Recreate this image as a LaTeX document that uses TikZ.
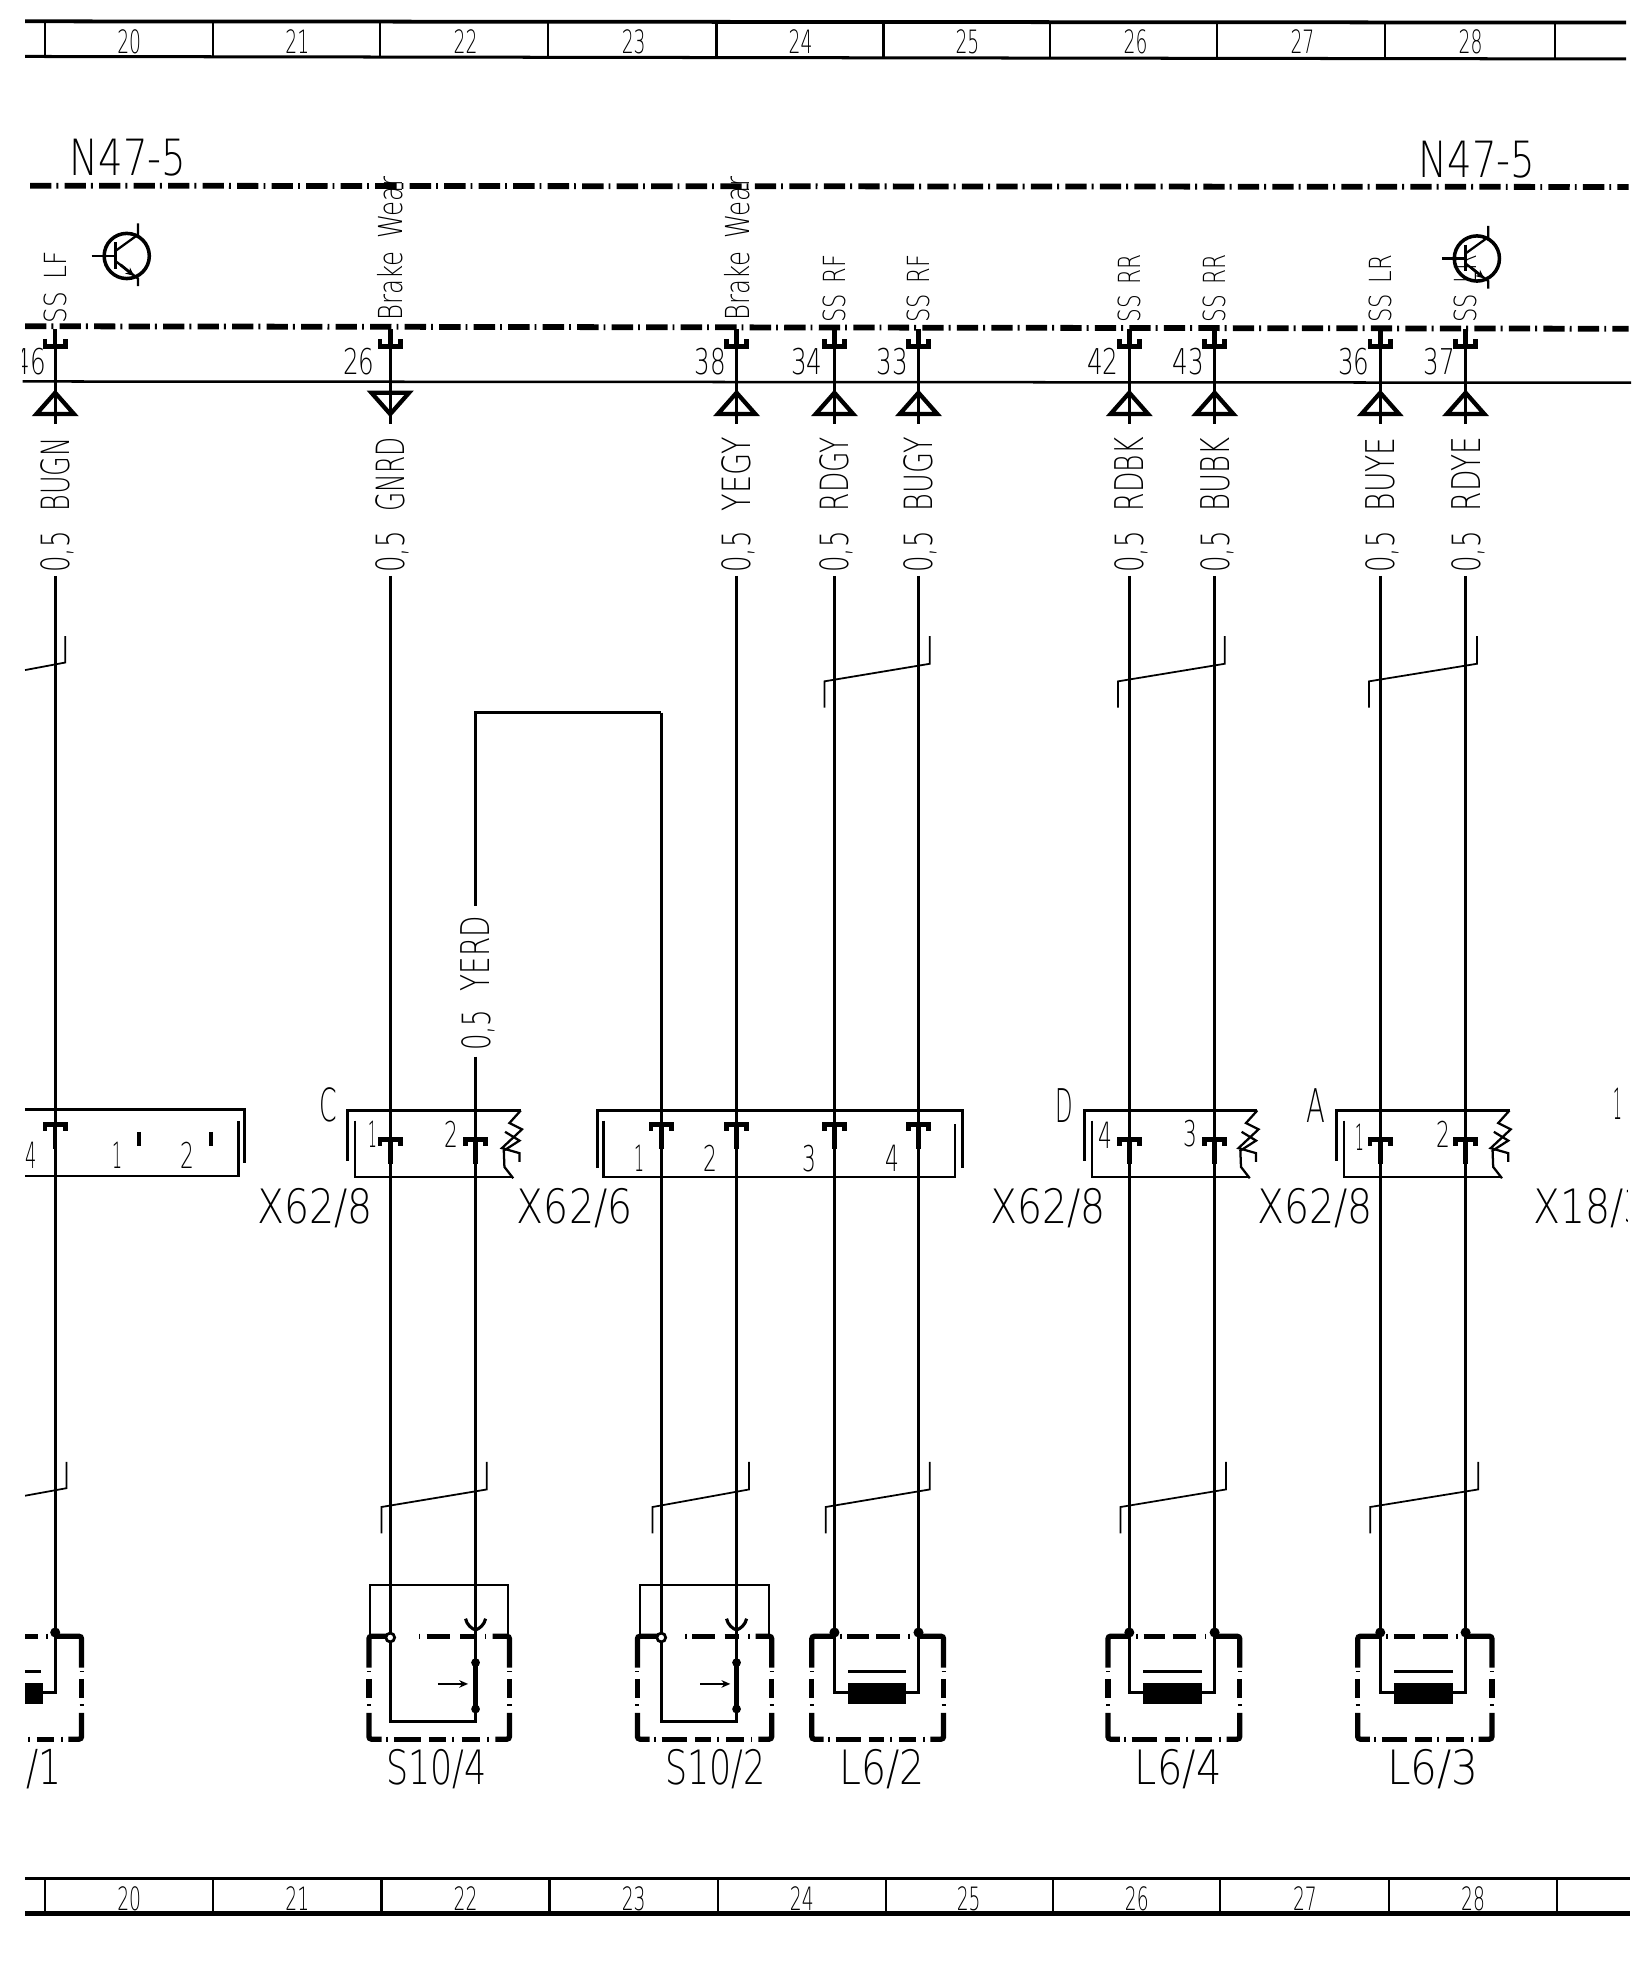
\documentclass[tikz,border=0pt]{standalone}
\usepackage{fontspec}
\usepackage{graphicx}
\usetikzlibrary{arrows.meta}
\newfontfamily\thinf{DejaVu Sans ExtraLight}
\newlength\dpx \setlength\dpx{0.6274pt}
\newcounter{tc}
\newcommand\hlab[5]{\stepcounter{tc}\node[txt] (t\arabic{tc}) at (#1,#2) {\raisebox{0pt}[#4\dpx][0pt]{\resizebox{#3\dpx}{#4\dpx}{\thinf #5}}};}
\newcommand\vlab[5]{\stepcounter{tc}\node[txt,rotate=90] (t\arabic{tc}) at (#1,#2) {\raisebox{0pt}[#4\dpx][0pt]{\resizebox{#3\dpx}{#4\dpx}{\thinf #5}}};}
% pin under the control-unit line
\newcommand\toppin[1]{\draw[pinl] (#1-8,270)--(#1-8,276)--(#1+8,276)--(#1+8,270);\draw[pinl] (#1,262)--(#1,276);}
% pin inside a connector housing, #2 = top of bracket
\newcommand\conpin[2]{\draw[pinl] (#1-8,#2+5)--(#1-8,#2)--(#1+8,#2)--(#1+8,#2+5);\draw[pinl] (#1,#2)--(#1,#2+20);}
\newcommand\mytri[1]{\draw[tril] (#1,313)--(#1+15,330)--(#1-15,330)--cycle;}
\newcommand\shield[4]{\draw[thinl] (#1,#3+57)--(#1,#3+36)--(#2,#3+22)--(#2,#3);}
\newcommand\zig[2]{\begin{scope}[shift={(#1,#2)}]
\draw[med] (0,0)--(-9,10)--(1,15)--(-15,30)--(-1,34)--(-1,41);
\draw[med] (-12.5,17)--(-1,24)--(-13.5,32)--(-13,45)--(-6,54);\end{scope}}
\newcommand\housing[2]{% #1 left x, #2 right x : zig-zag right end
\draw[thk] (#2,885)--(#1,885)--(#1,925);
\draw[med] (#1+6,893)--(#1+6,938)--(#2-7,938);
\zig{#2}{885}}
\newcommand\boxcorners{%
\draw[boxl,rounded corners=2\dpx] (0,25)--(0,0)--(16,0);
\draw[boxl,rounded corners=2\dpx] (0,61)--(0,82)--(9,82);
\draw[boxl,rounded corners=2\dpx] (90,82)--(100,82)--(100,61);
\foreach \px in {0,100}{\draw[boxl] (\px,34)--(\px,49);
 \draw[thinl] ({\px-1.5},28)--({\px+1.5},28);\draw[thinl] ({\px-1.5},55)--({\px+1.5},55);}
\draw[boxl] (18,82)--(37,82);\draw[boxl] (43,82)--(55,82);\draw[boxl] (66,82)--(79,82);
\foreach \px in {13,60,85}{\draw[thinl] (\px,80)--(\px,84);}}
\newcommand\swbox[2]{\begin{scope}[shift={(#1,1304)},xscale={(#2-#1)/100}]\boxcorners
\draw[boxl,rounded corners=2\dpx] (88,0)--(100,0)--(100,25);
\draw[boxl] (41,0)--(58,0);\draw[boxl] (65,0)--(76,0);
\foreach \px in {36,83}{\draw[thinl] (\px,-2)--(\px,2);}\end{scope}}
\newcommand\lfbox[2]{\begin{scope}[shift={(#1,1304)},xscale={(#2-#1)/100}]\boxcorners
\draw[boxl,rounded corners=2\dpx] (80,0)--(100,0)--(100,25);
\draw[boxl] (27,0)--(43,0);\draw[boxl] (49,0)--(67,0);
\foreach \px in {22,74}{\draw[thinl] (\px,-2)--(\px,2);}\end{scope}}
\newcommand\coil[3]{% wire1 wire2 plate
\draw[line width=2.5\dpx] (#1,1301)--(#1,1349)--(#2,1349)--(#2,1301);
\fill (#1+11,1341) rectangle (#2-10,1358);
\draw[line width=2.5\dpx] (#1+11,1332)--(#2-10,1332);
\fill (#1,1301) circle (4\dpx);\fill (#2,1301) circle (4\dpx);}
\newcommand\switchsym[5]{% left wire, right wire, frame left, frame right, arrow start
\draw[thinl] (#3,1303)--(#3,1263)--(#4,1263)--(#4,1303);
\draw[line width=2.5\dpx] (#2-8,1290) .. controls (#2-7,1295) and (#2-3,1298) .. (#2,1299) .. controls (#2+3,1298) and (#2+7,1295) .. (#2+8,1290);
\draw[wirel,line width=2.6\dpx] (#2,1280)--(#2,1298);
\draw[wirel] (#2,1298)--(#2,1325);
\draw[line width=4.5\dpx] (#2,1325)--(#2,1362);
\fill (#2,1325) circle (3.5\dpx);\fill (#2,1362) circle (3.5\dpx);
\draw[wirel,line width=2.6\dpx] (#2,1362)--(#2,1372)--(#1,1372)--(#1,1305);
\draw[wirel,-{Stealth[length=4.4pt,width=3.8pt]}] (#5,1342)--(#5+24,1342);
\draw[line width=2.2\dpx,fill=white] (#1,1305) circle (3.5\dpx);}
\newcommand\transistor[2]{\begin{scope}[shift={(#1,#2)}]
\draw[line width=2.8\dpx] (0,0) circle (18\dpx);
\draw[med] (-28,0)--(-9,0);
\draw[line width=2\dpx] (-9,-11)--(-9,10);
\draw[med] (-9,-4)--(9,-17)--(9,-26);
\draw[med] (-9,4)--(9,18)--(9,24);
\draw[wirel,-{Stealth[length=4.4pt,width=3.8pt]}] (-5,7)--(6,16);
\end{scope}}
\tikzset{
 txt/.style={inner sep=0pt,outer sep=0pt},
 wirel/.style={line width=2.2\dpx},
 thinl/.style={line width=1.4\dpx},
 med/.style={line width=1.8\dpx},
 thk/.style={line width=2.6\dpx},
 pinl/.style={line width=3.6\dpx},
 tril/.style={line width=3.4\dpx,line join=miter},
 boxl/.style={line width=4.2\dpx},
 dashl/.style={line width=4.6\dpx,dash pattern=on 17\dpx off 4\dpx on 1.5\dpx off 5\dpx},
}
\begin{document}
\begin{tikzpicture}[x=\dpx,y=-\dpx]
\useasboundingbox (0,0) rectangle (1313.3,1568.4);
% top strip
\coordinate (stl) at (20,17);\coordinate (str) at (1296,18);
\coordinate (sbl) at (20,45);\coordinate (sbr) at (1296,47);
\draw[line width=3\dpx] (stl)--(str);\draw[line width=2.4\dpx] (sbl)--(sbr);
\foreach \x in {36,170,303,437,571,704,837,970,1104,1239}{\draw[line width=1.8\dpx] (\x,18)--(\x,46);}
\foreach \t/\x in {20/103,21/237,22/371,23/505,24/638,25/771,26/905,27/1038,28/1172}{\hlab{\x}{33}{19}{19}{\t}}
% bottom strip
\coordinate (btl) at (20,1497);\coordinate (btr) at (1299,1497);
\coordinate (bbl) at (20,1525);\coordinate (bbr) at (1299,1525);
\draw[line width=2.6\dpx] (btl)--(btr);\draw[line width=3.6\dpx] (bbl)--(bbr);
\foreach \x in {36,170,304,438,572,706,839,972,1107,1241}{\draw[line width=1.8\dpx] (\x,1497)--(\x,1525);}
\foreach \t/\x in {20/103,21/237,22/371,23/505,24/639,25/772,26/906,27/1040,28/1174}{\hlab{\x}{1513}{19}{19}{\t}}
% N47-5 frame
\hlab{102}{125}{93}{29}{N47-5}
\hlab{1177}{127}{93}{29}{N47-5}
\coordinate (d1l) at (24,148);\coordinate (d1r) at (1298,149);
\coordinate (d2l) at (20,260);\coordinate (d2r) at (1298,262);
\coordinate (ll) at (18,304);\coordinate (lr) at (1300,305);
\draw[dashl] (d1l)--(d1r);\draw[dashl] (d2l)--(d2r);
\draw[line width=2\dpx] (ll)--(lr);
\transistor{101}{204}
% main wires
\foreach \n/\x/\ya/\yb in {a/44/459/1301,b/311/459/1305,c/379/842/1290,d/527/568/1305,e/587/459/1290,f/665/459/1301,g/732/459/1301,h/900/459/1301,i/968/459/1301,j/1100/459/1301,k/1168/459/1301}{
 \coordinate (w\n t) at (\x,\ya);\coordinate (w\n b) at (\x,\yb);
 \draw[wirel] (w\n t)--(w\n b);}
\foreach \n/\x in {a/44,b/311,e/587,f/665,g/732,h/900,i/968,j/1100,k/1168}{\toppin{\x}\draw[wirel] (\x,276)--(\x,338);}
\foreach \x in {44,587,665,732,900,968,1100,1168}{\mytri{\x}}
\draw[tril] (311,330)--(326,313)--(296,313)--cycle;
\foreach \x/\t in {44/BUGN,311/GNRD,587/YEGY,665/RDGY,732/BUGY,900/RDBK,968/BUBK,1100/BUYE,1168/RDYE}{
 \vlab{\x}{378}{59}{23}{\t}\vlab{\x}{440}{33}{23}{0,5}}
\foreach \x in {311,587}{\vlab{\x}{198}{115}{20}{Brake\hspace{.2em} Wear}}
\vlab{44}{229}{57}{18}{SS\hspace{.15em} LF}
\foreach \x/\t in {665/SS\hspace{.15em} RF,732/SS\hspace{.15em} RF,900/SS\hspace{.15em} RR,968/SS\hspace{.15em} RR,1100/SS\hspace{.15em} LR,1168/SS\hspace{.15em} LR}{\vlab{\x}{230}{54}{18}{\t}}
\transistor{1177}{206}
\begin{scope}\clip (18,270) rectangle (60,310);\hlab{24}{288}{25}{21}{46}\end{scope}
\foreach \x/\t in {286/26,566/38,643/34,711/33,879/42,947/43,1079/36,1147/37}{\hlab{\x}{288}{25}{21}{\t}}
% jumper
\coordinate (j1) at (379,722);\coordinate (j2) at (379,568);\coordinate (j3) at (527,568);
\draw[wirel] (j1)--(j2)--(j3);
\vlab{379}{760}{60}{23}{YERD}
\vlab{379}{821}{33}{23}{0,5}
% shields upper
\draw[thinl] (20,534)--(52,528)--(52,507);
\shield{657}{741}{507}{}
\shield{891}{976}{507}{}
\shield{1091}{1177}{507}{}
% shields lower
\draw[thinl] (20,1192)--(53,1186)--(53,1165);
\shield{304}{388}{1165}{}
\shield{520}{597}{1165}{}
\shield{658}{741}{1165}{}
\shield{893}{977}{1165}{}
\shield{1092}{1178}{1165}{}
% connector 1 (left)
\draw[thk] (20,884)--(195,884)--(195,927);
\draw[med] (20,937)--(190,937)--(190,893);
\conpin{44}{896}
\foreach \x in {111,168}{\draw[line width=3.2\dpx] (\x,902)--(\x,913);}
\hlab{25}{921}{9}{21}{4}\hlab{94}{921}{8}{21}{1}\hlab{149}{921}{11}{21}{2}
% connector C
\housing{277}{415}
\conpin{311}{908}\conpin{379}{908}
\hlab{262}{880}{14}{27}{C}
\hlab{297}{904}{7}{21}{1}\hlab{360}{904}{11}{21}{2}
% connector X62/6
\draw[thk] (476,931)--(476,885)--(767,885)--(767,931);
\draw[med] (481,893)--(481,938)--(761,938)--(761,896);
\foreach \x in {527,587,665,732}{\conpin{\x}{896}}
\hlab{510}{923}{8}{21}{1}\hlab{566}{923}{11}{21}{2}\hlab{645}{923}{11}{21}{3}\hlab{711}{923}{11}{21}{4}
% connector D
\housing{864}{1002}
\conpin{900}{908}\conpin{968}{908}
\hlab{848}{881}{14}{27}{D}
\hlab{881}{905}{11}{21}{4}\hlab{949}{903}{11}{21}{3}
% connector A
\housing{1065}{1203}
\conpin{1100}{908}\conpin{1168}{908}
\hlab{1049}{881}{15}{27}{A}
\hlab{1084}{906}{7}{21}{1}\hlab{1150}{904}{11}{21}{2}
\hlab{1289}{880}{7}{25}{1}
% connector names
\hlab{251}{961}{92}{28}{X62/8}
\hlab{458}{961}{92}{28}{X62/6}
\hlab{835}{961}{92}{28}{X62/8}
\hlab{1048}{961}{92}{28}{X62/8}
\begin{scope}\clip (1200,940) rectangle (1297,985);\hlab{1268}{961}{92}{28}{X18/3}\end{scope}
% components
\swbox{294}{406}
\switchsym{311}{379}{295}{405}{349}
\swbox{508}{615}
\switchsym{527}{587}{510}{613}{558}
\lfbox{647}{752}\coil{665}{732}{}
\lfbox{883}{988}\coil{900}{968}{}
\lfbox{1082}{1189}\coil{1100}{1168}{}
\begin{scope}\clip (20,1290) rectangle (80,1395);
\lfbox{-40}{65}
\draw[wirel] (44,1301)--(44,1349)--(30,1349);
\fill (20,1341) rectangle (34,1358);
\draw[line width=2.5\dpx] (20,1332)--(33,1332);
\fill (44,1301) circle (4\dpx);
\end{scope}
\hlab{35}{1408}{28}{28}{/1}
\hlab{348}{1408}{80}{28}{S10/4}
\hlab{570}{1408}{80}{28}{S10/2}
\hlab{703}{1408}{68}{28}{L6/2}
\hlab{939}{1408}{69}{28}{L6/4}
\hlab{1142}{1408}{73}{28}{L6/3}
\end{tikzpicture}
\end{document}
